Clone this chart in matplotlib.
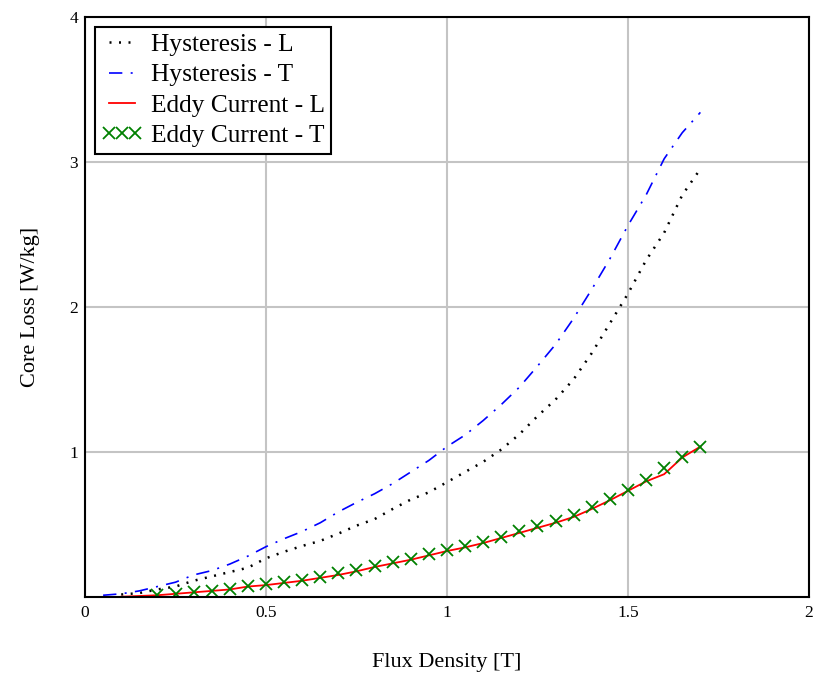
import numpy as np
import matplotlib.pyplot as plt

plt.rcParams['font.family'] = ['Liberation Serif', 'DejaVu Serif']

# flux density steps (T)
b_hyst_t = [0.05, 0.10, 0.15, 0.20, 0.25, 0.30, 0.35, 0.40, 0.45, 0.50, 0.55, 0.60,
            0.65, 0.70, 0.75, 0.80, 0.85, 0.90, 0.95, 1.00, 1.05, 1.10, 1.15, 1.20,
            1.25, 1.30, 1.35, 1.40, 1.45, 1.50, 1.55, 1.60, 1.65, 1.70]
hyst_t = [0.01, 0.02, 0.04, 0.07, 0.10, 0.15, 0.18, 0.225, 0.28, 0.345, 0.40, 0.45,
          0.51, 0.585, 0.65, 0.71, 0.78, 0.86, 0.94, 1.035, 1.115, 1.215, 1.325, 1.445,
          1.59, 1.74, 1.92, 2.12, 2.33, 2.56, 2.77, 3.02, 3.20, 3.34]

b_hyst_l = b_hyst_t[1:]
hyst_l = [0.015, 0.025, 0.05, 0.07, 0.11, 0.14, 0.17, 0.20, 0.265, 0.31, 0.35,
          0.385, 0.435, 0.49, 0.535, 0.605, 0.67, 0.72, 0.79, 0.86, 0.93, 1.015, 1.12,
          1.245, 1.36, 1.50, 1.68, 1.885, 2.09, 2.32, 2.51, 2.77, 2.95]

b_eddy_l = [0.10, 0.15, 0.20, 0.25, 0.30, 0.35, 0.40, 0.45, 0.50, 0.55, 0.60, 0.65,
            0.70, 0.75, 0.80, 0.85, 0.90, 0.95, 1.00, 1.05, 1.10, 1.15, 1.20, 1.25,
            1.30, 1.35, 1.40, 1.45, 1.50, 1.55, 1.60, 1.65, 1.70]
eddy_l = [0.0, 0.005, 0.01, 0.02, 0.03, 0.04, 0.05, 0.07, 0.08, 0.095, 0.11, 0.13,
          0.15, 0.175, 0.205, 0.23, 0.255, 0.285, 0.315, 0.34, 0.37, 0.405, 0.44, 0.475,
          0.51, 0.55, 0.605, 0.665, 0.73, 0.795, 0.845, 0.96, 1.035]

b_eddy_t = b_eddy_l[2:]
eddy_t = [0.01, 0.02, 0.03, 0.04, 0.05, 0.076, 0.085, 0.10, 0.115, 0.138, 0.16,
          0.183, 0.213, 0.236, 0.26, 0.294, 0.32, 0.348, 0.374, 0.41, 0.452, 0.489,
          0.521, 0.562, 0.618, 0.671, 0.735, 0.803, 0.885, 0.965, 1.034]

fig = plt.figure(figsize=(8.15, 6.75), dpi=100)
ax = fig.add_axes([0.1043, 0.116, 0.8883, 0.8593])

ax.plot(b_hyst_l, hyst_l, color='black', lw=1.8, dashes=(0.8, 3.0),
        label='Hysteresis - L')
ax.plot(b_hyst_t, hyst_t, color='blue', lw=1.2, dashes=(8, 5, 1.2, 5),
        label='Hysteresis - T')
ax.plot(b_eddy_l, eddy_l, color='red', lw=1.3, label='Eddy Current - L')
ax.plot(b_eddy_t, eddy_t, color='green', ls='none', marker='x', ms=9, mew=1.3,
        label='Eddy Current - T')

ax.set_xlim(0, 2)
ax.set_ylim(0, 4)
ax.set_xticks([0, 0.5, 1, 1.5, 2])
ax.set_xticklabels(['0', '0.5', '1', '1.5', '2'])
ax.set_yticks([1, 2, 3, 4])
ax.set_yticklabels(['1', '2', '3', '4'])
ax.tick_params(length=0, labelsize=12.5)
ax.tick_params(axis='x', pad=6)
ax.tick_params(axis='y', pad=5)
ax.grid(True, color='#c4c4c4', lw=1.5)
ax.set_axisbelow(True)
for s in ax.spines.values():
    s.set_linewidth(1.5)

ax.set_xlabel('Flux Density [T]', fontsize=16)
ax.set_ylabel('Core Loss [W/kg]', fontsize=16)
ax.xaxis.set_label_coords(0.50, -0.097)
ax.yaxis.set_label_coords(-0.062, 0.5)

leg = ax.legend(loc='upper left', fontsize=18.3, numpoints=3, handlelength=1.6,
                handletextpad=0.35, borderpad=0.25, labelspacing=0.3,
                fancybox=False, framealpha=1, edgecolor='black',
                borderaxespad=0.4)
leg.get_frame().set_linewidth(1.5)

plt.savefig('out.png', dpi=100)
